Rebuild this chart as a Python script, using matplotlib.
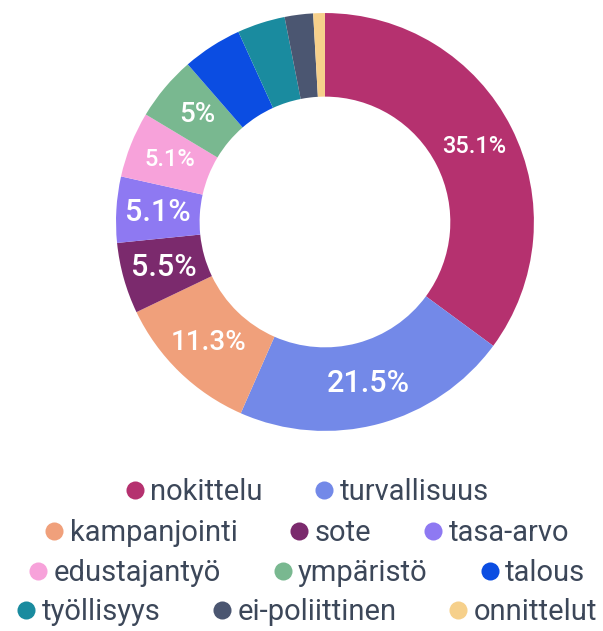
import matplotlib.pyplot as plt
from matplotlib.lines import Line2D
import numpy as np

plt.rcParams['font.family'] = ['Roboto', 'DejaVu Sans']

# Données du graphique
categories = ['nokittelu', 'turvallisuus', 'kampanjointi', 'sote', 'tasa-arvo',
              'edustajantyö', 'ympäristö', 'talous', 'työllisyys', 'ei-poliittinen',
              'onnittelut']
values = [35.1, 21.5, 11.3, 5.5, 5.1, 5.1, 5.0, 4.6, 3.7, 2.2, 0.9]
labels = ['35.1%', '21.5%', '11.3%', '5.5%', '5.1%', '5.1%', '5%', '', '', '', '']
colors = ['#b5316f', '#7389e8', '#f0a07b', '#7b2a6d', '#8e79f2', '#f7a2da',
          '#79b890', '#0b4de2', '#1a8b9f', '#4b5671', '#f6d08b']
label_sizes = [17, 22, 20, 22, 22, 17, 20, 10, 10, 10, 10]
legend_rows = [[0, 1], [2, 3, 4], [5, 6, 7], [8, 9, 10]]

fig = plt.figure(figsize=(6.03, 6.31), dpi=100)
ax = fig.add_axes([0.1924, 0.317, 0.693, 0.6624])

wedges, _ = ax.pie(values, colors=colors, startangle=90, counterclock=False,
                   radius=1.0, wedgeprops=dict(width=0.4, linewidth=0))

# Étiquettes au milieu de l'anneau
for w, lab, fs in zip(wedges, labels, label_sizes):
    if not lab:
        continue
    ang = np.deg2rad((w.theta1 + w.theta2) / 2)
    ax.text(0.8 * np.cos(ang), 0.8 * np.sin(ang), lab, ha='center', va='center',
            color='white', fontsize=fs, fontweight='medium')

ax.set_xlim(-1, 1)
ax.set_ylim(-1, 1)
ax.set_aspect('equal')
ax.axis('off')

# Légende en quatre lignes centrées
row_y = [0.2203, 0.1553, 0.0919, 0.0301]
for row, y in zip(legend_rows, row_y):
    handles = [Line2D([0], [0], marker='o', linestyle='', markersize=13,
                      markerfacecolor=colors[i], markeredgewidth=0)
               for i in row]
    leg = fig.legend(handles, [categories[i] for i in row], loc='center',
                     bbox_to_anchor=(0.509, y), ncol=len(row), frameon=False,
                     fontsize=21, handlelength=0.65, handletextpad=0.2,
                     columnspacing=1.8, borderpad=0, borderaxespad=0)
    for t in leg.get_texts():
        t.set_color('#3c4759')

fig.savefig('out.png', dpi=100)
